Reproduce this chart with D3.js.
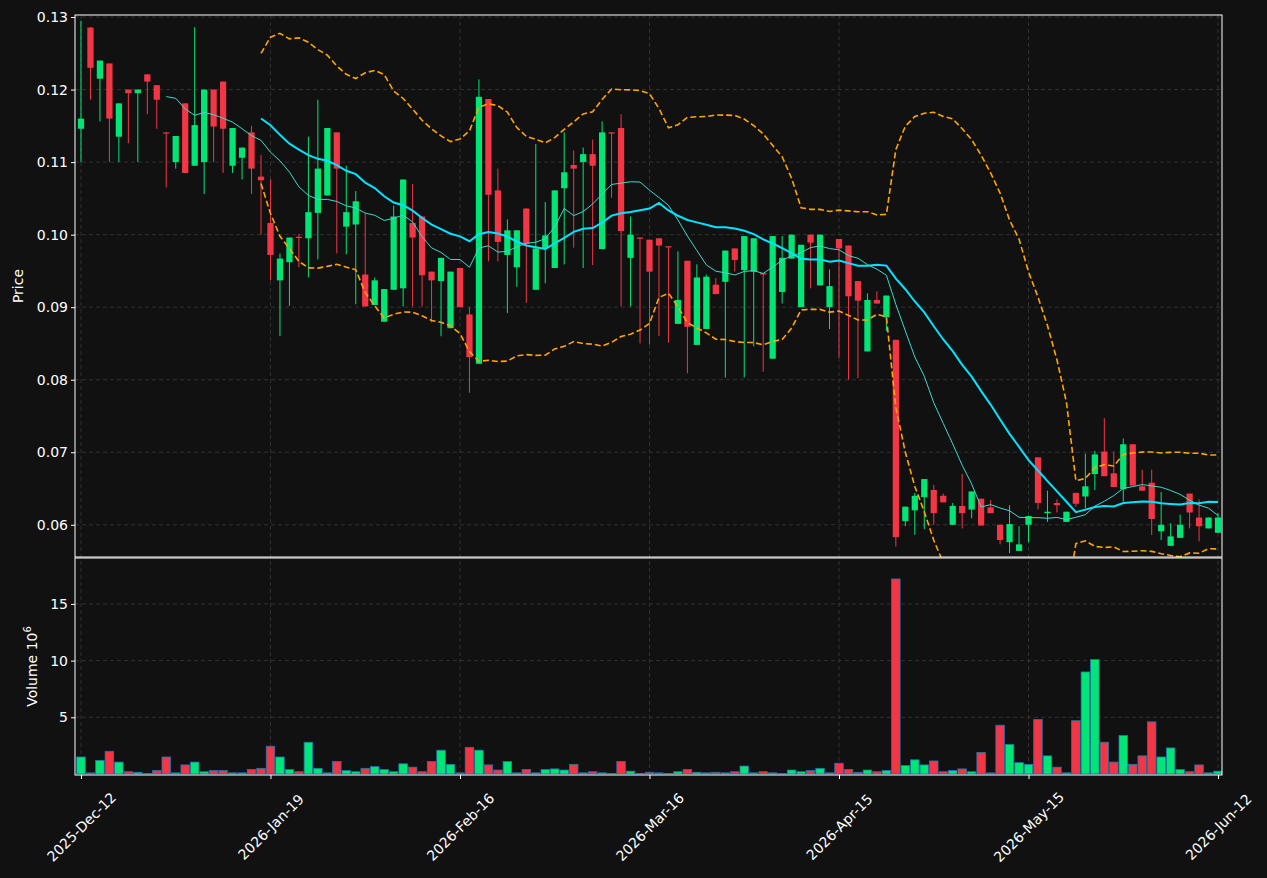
<!DOCTYPE html>
<html>
<head>
<meta charset="utf-8">
<script src="https://cdn.jsdelivr.net/npm/d3@7"></script>
<style>
  body { margin: 0; background: #111111; }
  svg { display: block; }
  text { font-family: "DejaVu Sans", sans-serif; fill: #ffffff; }
</style>
</head>
<body>
<svg id="chart"></svg>
<script>
// OHLC per bar
const opens = [.1146,.12855,.1215,.1236,.1135,.12,.1195,.1221,.1206,.1141,.1100,.1181,.1095,.1100,.1200,.1211,.1095,.1106,.1141,.1080,
  .1016,.0937,.0962,.0997,.0995,.1030,.1054,.1141,.1011,.1014,.0945,.0903,.0880,.0924,.0926,.1016,.1025,.0949,.0936,.0871,
  .0954,.0890,.0822,.1187,.1061,.0972,.0955,.1036,.0924,.0981,.0954,.1064,.1096,.1100,.1111,.0980,.1141,.1147,.0968,.0996,
  .0993,.0995,.0984,.0877,.0964,.0848,.0870,.0931,.0935,.0981,.0951,.0949,.0947,.0829,.0921,.0967,.0900,.1000,.0930,.0900,
  .0994,.0985,.0936,.0839,.0910,.0886,.0855,.0605,.0620,.0638,.0648,.0640,.0600,.0626,.0621,.0636,.0624,.0600,.0576,.0564,
  .0600,.0693,.0616,.0630,.0604,.0644,.0639,.0670,.0701,.0671,.0649,.0711,.0653,.0658,.0591,.0571,.0582,.0643,.0610,.0595,.0589]
const closes = [.1160,.1230,.1240,.1160,.1181,.1195,.12,.1211,.1186,.1140,.1136,.1085,.1151,.1200,.1149,.1146,.1147,.1120,.1091,.1075,
  .0972,.0967,.0996,.0996,.1031,.1091,.1147,.1091,.1031,.1046,.0901,.0937,.0925,.1025,.1076,.0996,.0944,.0937,.0968,.0949,
  .0900,.0831,.1190,.1055,.0990,.1006,.1006,.0987,.0981,.0999,.1061,.1086,.1091,.1111,.1095,.1141,.1140,.1005,.1000,.0995,
  .0949,.0985,.0983,.0910,.0873,.0941,.0942,.0918,.0978,.0965,.0998,.0995,.0945,.0998,.0968,.1000,.0986,.0989,.1000,.0929,
  .0981,.0915,.0909,.0910,.0905,.0916,.0583,.0625,.0640,.0663,.0616,.0631,.0626,.0616,.0646,.0599,.0616,.0579,.0601,.0573,
  .0612,.0630,.0618,.0627,.0618,.0629,.0653,.0697,.0667,.0652,.0711,.0654,.0647,.0608,.0600,.0584,.0600,.0617,.0598,.0610,.0610]
const highs = [.1295,.1286,.1240,.1236,.1181,.1200,.1200,.1221,.1206,.1141,.1136,.1181,.1286,.1200,.1200,.1211,.1147,.1120,.1150,.1110,
  .1076,.0974,.0996,.1001,.1135,.1186,.1147,.1141,.1095,.1060,.1029,.0941,.0925,.1040,.1076,.1070,.1025,.0949,.0968,.0949,
  .0954,.0900,.1214,.1187,.1091,.1021,.1006,.1036,.1125,.1045,.1061,.1141,.1116,.1120,.1131,.1156,.1141,.1166,.1025,.0996,
  .0993,.0995,.0984,.0977,.0964,.0959,.0945,.0940,.0978,.0981,.0998,.0995,.0947,.0998,.0998,.1000,.0986,.1000,.1000,.0952,
  .0994,.0985,.0936,.0919,.0922,.0916,.0855,.0625,.0644,.0663,.0655,.0643,.0630,.0670,.0646,.0636,.0634,.0600,.0627,.0598,
  .0612,.0693,.0647,.0635,.0618,.0644,.0698,.0702,.0747,.0701,.0719,.0711,.0676,.0676,.0645,.0602,.0614,.0643,.0635,.0610,.0616]
const lows = [.1100,.1186,.1156,.1100,.1100,.1126,.1100,.1166,.1146,.1065,.1091,.1085,.1095,.1056,.1100,.1085,.1085,.1076,.1056,.1000,
  .0937,.0860,.0902,.0955,.0941,.0966,.1054,.0974,.0973,.0904,.0901,.0903,.0880,.0924,.0901,.0901,.0901,.0879,.0860,.0871,
  .0900,.0782,.0822,.0963,.0963,.0892,.0928,.0906,.0924,.0933,.0954,.0959,.0982,.0954,.0958,.0980,.1051,.0901,.0901,.0850,
  .0849,.0860,.0851,.0877,.0809,.0848,.0870,.0918,.0803,.0949,.0803,.0846,.0811,.0829,.0905,.0967,.0900,.0926,.0930,.0870,
  .0830,.0800,.0802,.0839,.0905,.0867,.0570,.0598,.0586,.0594,.0600,.0631,.0600,.0595,.0609,.0599,.0616,.0573,.0561,.0564,
  .0576,.0621,.0604,.0617,.0604,.0625,.0623,.0648,.0667,.0652,.0632,.0654,.0647,.0586,.0579,.0571,.0582,.0595,.0577,.0595,.0589]
// volume in millions
const volumes = [1.5,.1,1.2,2.0,1.05,.2,.15,.05,.3,1.5,.1,.8,1.05,.2,.3,.3,.1,.1,.4,.5,
  2.45,1.5,.4,.2,2.8,.5,.1,1.1,.3,.2,.5,.65,.4,.2,.9,.6,.2,1.1,2.1,.85,
  .1,2.35,2.1,.8,.35,1.1,.1,.4,.1,.4,.45,.35,.85,.1,.2,.1,.05,1.1,.25,.05,
  .15,.1,.05,.2,.4,.15,.1,.15,.1,.2,.7,.1,.2,.1,.05,.35,.2,.3,.5,.1,
  .95,.4,.15,.35,.2,.3,17.2,.75,1.25,.8,1.15,.2,.3,.45,.2,1.9,.1,4.3,2.6,1.0,
  .85,4.8,1.6,.6,.1,4.7,9.0,10.1,2.8,1.05,3.4,.85,1.6,4.6,1.5,2.3,.4,.2,.8,.1,.25]
const tickIndex = [0, 20, 40, 60, 80, 100, 120]
const tickLabels = ['2025-Dec-12', '2026-Jan-19', '2026-Feb-16', '2026-Mar-16', '2026-Apr-15', '2026-May-15', '2026-Jun-12']
const priceTicks = [0.06, 0.07, 0.08, 0.09, 0.10, 0.11, 0.12, 0.13]
const volumeTicks = [5, 10, 15]

const W = 1267, H = 878
const left = 75, right = 1222
const priceTop = 15, priceBottom = 557
const volTop = 558, volBottom = 775
const green = '#00e676', red = '#f23645'

const svg = d3.select('#chart').attr('width', W).attr('height', H)
svg.append('rect').attr('width', W).attr('height', H).attr('fill', '#111111')

const n = closes.length
const bars = d3.range(n).map(i => ({ i, o: opens[i], h: highs[i], l: lows[i], c: closes[i], v: volumes[i] }))

const x = d3.scaleLinear().domain([-0.63, 120.42]).range([left, right])
const y = d3.scaleLinear().domain([0.05556, 0.13028]).range([priceBottom, priceTop])
const yv = d3.scaleLinear().domain([0, 19.05]).range([volBottom - 1, volTop])
const bw = (x(1) - x(0))

// clip paths
const defs = svg.append('defs')
defs.append('clipPath').attr('id', 'clipP').append('rect')
  .attr('x', left).attr('y', priceTop).attr('width', right - left).attr('height', priceBottom - priceTop)
defs.append('clipPath').attr('id', 'clipV').append('rect')
  .attr('x', left).attr('y', volTop).attr('width', right - left).attr('height', volBottom - volTop)

// grid
const grid = svg.append('g').attr('stroke', '#3a3a3a').attr('stroke-dasharray', '4,3').attr('stroke-width', 0.8)
tickIndex.forEach(t => {
  grid.append('line').attr('x1', x(t)).attr('x2', x(t)).attr('y1', priceTop).attr('y2', volBottom)
})
priceTicks.forEach(t => {
  grid.append('line').attr('x1', left).attr('x2', right).attr('y1', y(t)).attr('y2', y(t))
})
volumeTicks.forEach(t => {
  grid.append('line').attr('x1', left).attr('x2', right).attr('y1', yv(t)).attr('y2', yv(t))
})

// indicators computed from closes
function rolling(k) {
  return d3.range(n).map(i => {
    if (i < k - 1) return null
    const w = closes.slice(i - k + 1, i + 1)
    const m = d3.mean(w)
    const sd = Math.sqrt(d3.mean(w, d => (d - m) ** 2))
    return { i, m, up: m + 2 * sd, lo: m - 2 * sd }
  }).filter(d => d)
}
const ma10 = rolling(10), ma20 = rolling(20)

const pg = svg.append('g').attr('clip-path', 'url(#clipP)')

// candles
const cg = pg.append('g').selectAll('g').data(bars).join('g')
cg.append('line')
  .attr('x1', d => x(d.i)).attr('x2', d => x(d.i))
  .attr('y1', d => y(d.h)).attr('y2', d => y(d.l))
  .attr('stroke', d => d.c >= d.o ? green : red).attr('stroke-width', 1)
cg.append('rect')
  .attr('x', d => x(d.i) - bw * 0.33).attr('width', bw * 0.66)
  .attr('y', d => y(Math.max(d.o, d.c)))
  .attr('height', d => Math.max(1.2, Math.abs(y(d.o) - y(d.c))))
  .attr('fill', d => d.c >= d.o ? green : red)

const line = key => d3.line().x(d => x(d.i)).y(d => y(d[key]))
pg.append('path').datum(ma10).attr('d', line('m')).attr('fill', 'none')
  .attr('stroke', '#40d8cc').attr('stroke-width', 1)
pg.append('path').datum(ma20).attr('d', line('m')).attr('fill', 'none')
  .attr('stroke', '#00e5ff').attr('stroke-width', 2)
;['up', 'lo'].forEach(k => {
  pg.append('path').datum(ma20).attr('d', line(k)).attr('fill', 'none')
    .attr('stroke', '#ffa500').attr('stroke-width', 1.6).attr('stroke-dasharray', '6,3')
})

// volume
svg.append('g').attr('clip-path', 'url(#clipV)').selectAll('rect').data(bars).join('rect')
  .attr('x', d => x(d.i) - bw * 0.45).attr('width', bw * 0.9)
  .attr('y', d => yv(d.v)).attr('height', d => yv(0) - yv(d.v))
  .attr('fill', d => d.c >= d.o ? green : red)
  .attr('stroke', '#1f77b4').attr('stroke-width', 0.8)

// frames
svg.append('rect').attr('x', left).attr('y', priceTop).attr('width', right - left).attr('height', priceBottom - priceTop)
  .attr('fill', 'none').attr('stroke', '#ffffff').attr('stroke-width', 1)
svg.append('rect').attr('x', left).attr('y', volTop).attr('width', right - left).attr('height', volBottom - volTop)
  .attr('fill', 'none').attr('stroke', '#ffffff').attr('stroke-width', 1)

// axes
const axisStyle = g => {
  g.select('.domain').remove()
  g.selectAll('line').attr('stroke', '#ffffff')
  g.selectAll('text').attr('fill', '#ffffff').style('font-size', '14px').style('font-family', 'DejaVu Sans')
}
svg.append('g').attr('transform', `translate(${left},0)`)
  .call(d3.axisLeft(y).tickValues(priceTicks).tickFormat(d3.format('.2f')).tickSize(4))
  .call(axisStyle)
svg.append('g').attr('transform', `translate(${left},0)`)
  .call(d3.axisLeft(yv).tickValues(volumeTicks).tickSize(4))
  .call(axisStyle)
const xa = svg.append('g').attr('transform', `translate(0,${volBottom})`)
  .call(d3.axisBottom(x).tickValues(tickIndex).tickFormat((d, k) => tickLabels[k]).tickSize(4))
  .call(axisStyle)
xa.selectAll('text').attr('text-anchor', 'middle').attr('y', 0).attr('dy', '0.35em')
  .attr('transform', 'translate(0,52) rotate(-45)')

svg.append('text').attr('transform', `translate(23,${(priceTop + priceBottom) / 2}) rotate(-90)`)
  .attr('text-anchor', 'middle').style('font-size', '14px').text('Price')
const vl = svg.append('text').attr('transform', `translate(37,${(volTop + volBottom) / 2}) rotate(-90)`)
  .attr('text-anchor', 'middle').style('font-size', '14px')
vl.append('tspan').text('Volume  10')
vl.append('tspan').attr('dy', -6).style('font-size', '10px').text('6')
</script>
</body>
</html>
